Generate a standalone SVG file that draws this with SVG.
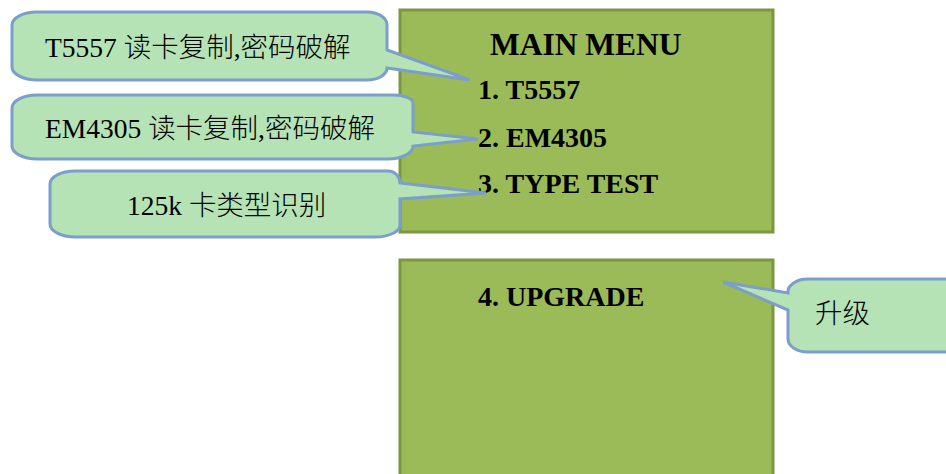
<svg xmlns="http://www.w3.org/2000/svg" width="946" height="474" viewBox="0 0 946 474">
<style>
.box{fill:#9bbb59;stroke:#7a9840;stroke-width:3}
.call{fill:#b5e3b5;stroke:#7b9ecb;stroke-width:3;stroke-linejoin:miter}
.menu{font-family:"Liberation Serif","Noto Sans CJK SC",serif;font-weight:bold;font-size:28px;fill:#000}
.title{font-size:31.5px}
.ct{font-family:"Liberation Serif","Noto Sans CJK SC",serif;font-size:27.5px;font-weight:300;fill:#000}
</style>
<rect width="946" height="474" fill="#fff"/>
<g id="main-menu">
<rect class="box" x="400" y="10" width="373" height="222"/>
<text class="menu title" x="490" y="55">MAIN MENU</text>
<text class="menu" x="478" y="99">1. T5557</text>
<text class="menu" x="478" y="147">2. EM4305</text>
<text class="menu" x="478" y="193">3. TYPE TEST</text>
</g>
<g id="upgrade-menu">
<rect class="box" x="400" y="260" width="373" height="230"/>
<text class="menu" x="478" y="306">4. UPGRADE</text>
</g>
<g id="callout-t5557">
<path class="call" d="M37 12 H367 A20 13 0 0 1 387 25 V50 L470 80 L387 68 A20 12 0 0 1 367 80 H37 A25 13 0 0 1 12 67 V25 A25 13 0 0 1 37 12 Z"/>
<text class="ct" x="45" y="57">T5557 读卡复制,密码破解</text>
</g>
<g id="callout-em4305">
<path class="call" d="M37 95 H393 A20 8 0 0 1 413 103 V132 L478 139 L413 146 A25 13 0 0 1 388 159 H37 A25 13 0 0 1 12 146 V108 A25 13 0 0 1 37 95 Z"/>
<text class="ct" x="45" y="138">EM4305 读卡复制,密码破解</text>
</g>
<g id="callout-type">
<path class="call" d="M75 171 H388 A12 12 0 0 1 400 183 L486 193 L400 199 V225 A25 12 0 0 1 375 237 H75 A25 13 0 0 1 50 224 V184 A25 13 0 0 1 75 171 Z"/>
<text class="ct" x="127" y="215">125k 卡类型识别</text>
</g>
<g id="callout-upgrade">
<path class="call" d="M808 279 H960 V352 H808 A20 13 0 0 1 788 339 V310 L723 282 L788 293 A20 13 0 0 1 808 279 Z"/>
<text class="ct" x="815" y="323">升级</text>
</g>
</svg>
